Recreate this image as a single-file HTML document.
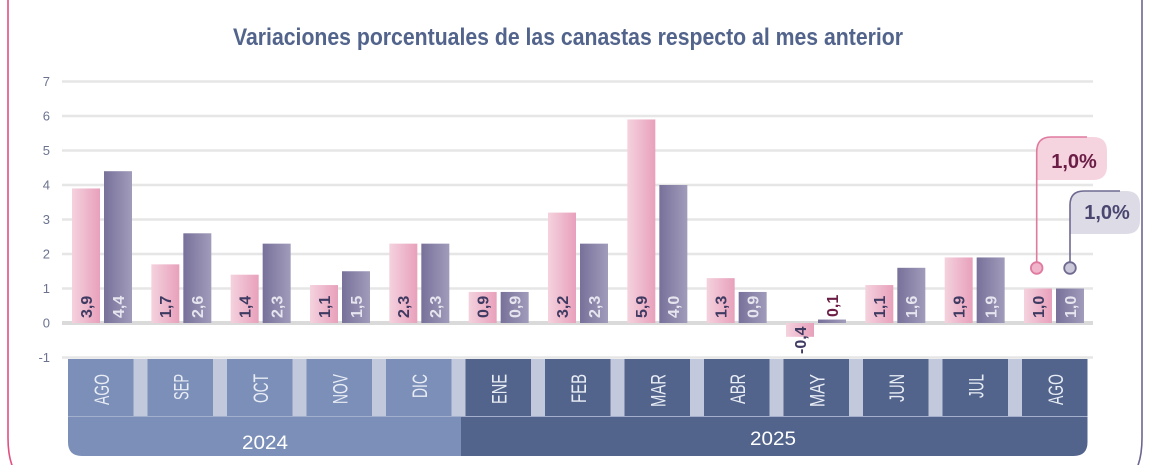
<!DOCTYPE html>
<html>
<head>
<meta charset="utf-8">
<style>
  html,body{margin:0;padding:0;background:#ffffff;}
  body{width:1155px;height:465px;overflow:hidden;}
  svg{display:block;}
  text{font-family:"Liberation Sans",sans-serif;}
</style>
</head>
<body>
<svg width="1155" height="465" viewBox="0 0 1155 465" xmlns="http://www.w3.org/2000/svg">
  <defs>
    <linearGradient id="gp" x1="0" y1="0" x2="1" y2="0">
      <stop offset="0" stop-color="#f4d2de"/>
      <stop offset="1" stop-color="#e8a0bb"/>
    </linearGradient>
    <linearGradient id="gv" x1="0" y1="0" x2="1" y2="0">
      <stop offset="0" stop-color="#77719a"/>
      <stop offset="1" stop-color="#a19cbb"/>
    </linearGradient>
  </defs>

  <!-- frame -->
  <path d="M8 0 L8 438 Q8 458 14 470" fill="none" stroke="#e3507f" stroke-width="1.6"/>
  <path d="M1142 0 L1142 438 Q1142 458 1136 470" fill="none" stroke="#6c6790" stroke-width="1.6"/>

  <!-- title -->
  <text x="568" y="45" text-anchor="middle" font-size="24" font-weight="bold" fill="#52648c" textLength="670" lengthAdjust="spacingAndGlyphs">Variaciones porcentuales de las canastas respecto al mes anterior</text>

  <!-- gridlines -->
  <g stroke="#e6e6e6" stroke-width="2.5">
    <line x1="62" y1="81.5" x2="1093" y2="81.5"/>
    <line x1="62" y1="116" x2="1093" y2="116"/>
    <line x1="62" y1="150.5" x2="1093" y2="150.5"/>
    <line x1="62" y1="185" x2="1093" y2="185"/>
    <line x1="62" y1="219.5" x2="1093" y2="219.5"/>
    <line x1="62" y1="254" x2="1093" y2="254"/>
    <line x1="62" y1="288.5" x2="1093" y2="288.5"/>
    <line x1="62" y1="357.5" x2="1093" y2="357.5"/>
  </g>
  <rect x="62" y="321" width="1031" height="4" fill="#dadada"/>

  <!-- y labels -->
  <g font-size="13" fill="#6b7390" text-anchor="end">
    <text x="50" y="86">7</text>
    <text x="50" y="120.5">6</text>
    <text x="50" y="155">5</text>
    <text x="50" y="189.5">4</text>
    <text x="50" y="224">3</text>
    <text x="50" y="258.5">2</text>
    <text x="50" y="293">1</text>
    <text x="50" y="327.5">0</text>
    <text x="50" y="362">-1</text>
  </g>

  <!-- pink bars -->
  <g fill="url(#gp)">
    <rect x="72" y="188.45" width="28" height="134.55"/>
    <rect x="151.33" y="264.35" width="28" height="58.65"/>
    <rect x="230.67" y="274.7" width="28" height="48.3"/>
    <rect x="310" y="285.05" width="28" height="37.95"/>
    <rect x="389.33" y="243.65" width="28" height="79.35"/>
    <rect x="468.67" y="291.95" width="28" height="31.05"/>
    <rect x="548" y="212.6" width="28" height="110.4"/>
    <rect x="627.33" y="119.45" width="28" height="203.55"/>
    <rect x="706.67" y="278.15" width="28" height="44.85"/>
    <rect x="786" y="323" width="28" height="13.8"/>
    <rect x="865.33" y="285.05" width="28" height="37.95"/>
    <rect x="944.67" y="257.45" width="28" height="65.55"/>
    <rect x="1024" y="288.5" width="28" height="34.5"/>
  </g>
  <!-- purple bars -->
  <g fill="url(#gv)">
    <rect x="104" y="171.2" width="28" height="151.8"/>
    <rect x="183.33" y="233.3" width="28" height="89.7"/>
    <rect x="262.67" y="243.65" width="28" height="79.35"/>
    <rect x="342" y="271.25" width="28" height="51.75"/>
    <rect x="421.33" y="243.65" width="28" height="79.35"/>
    <rect x="500.67" y="291.95" width="28" height="31.05"/>
    <rect x="580" y="243.65" width="28" height="79.35"/>
    <rect x="659.33" y="185" width="28" height="138"/>
    <rect x="738.67" y="291.95" width="28" height="31.05"/>
    <rect x="818" y="319.55" width="28" height="3.45"/>
    <rect x="897.33" y="267.8" width="28" height="55.2"/>
    <rect x="976.67" y="257.45" width="28" height="65.55"/>
    <rect x="1056" y="288.5" width="28" height="34.5"/>
  </g>

  <!-- pink bar labels -->
  <g font-size="16" font-weight="bold" fill="#3e3a62">
    <text transform="translate(91.8,318) rotate(-90)">3,9</text>
    <text transform="translate(171.13,318) rotate(-90)">1,7</text>
    <text transform="translate(250.47,318) rotate(-90)">1,4</text>
    <text transform="translate(329.8,318) rotate(-90)">1,1</text>
    <text transform="translate(409.13,318) rotate(-90)">2,3</text>
    <text transform="translate(488.47,318) rotate(-90)">0,9</text>
    <text transform="translate(567.8,318) rotate(-90)">3,2</text>
    <text transform="translate(647.13,318) rotate(-90)">5,9</text>
    <text transform="translate(726.47,318) rotate(-90)">1,3</text>
    <text transform="translate(805.8,354) rotate(-90)">-0,4</text>
    <text transform="translate(885.13,318) rotate(-90)">1,1</text>
    <text transform="translate(964.47,318) rotate(-90)">1,9</text>
    <text transform="translate(1043.8,318) rotate(-90)">1,0</text>
  </g>
  <!-- purple bar labels -->
  <g font-size="16" font-weight="bold" fill="#e6e4ee">
    <text transform="translate(123.8,318) rotate(-90)">4,4</text>
    <text transform="translate(203.13,318) rotate(-90)">2,6</text>
    <text transform="translate(282.47,318) rotate(-90)">2,3</text>
    <text transform="translate(361.8,318) rotate(-90)">1,5</text>
    <text transform="translate(441.13,318) rotate(-90)">2,3</text>
    <text transform="translate(520.47,318) rotate(-90)">0,9</text>
    <text transform="translate(599.8,318) rotate(-90)">2,3</text>
    <text transform="translate(679.13,318) rotate(-90)">4,0</text>
    <text transform="translate(758.47,318) rotate(-90)">0,9</text>
    <text transform="translate(917.13,318) rotate(-90)">1,6</text>
    <text transform="translate(996.47,318) rotate(-90)">1,9</text>
    <text transform="translate(1075.8,318) rotate(-90)">1,0</text>
  </g>
  <text transform="translate(837.8,317) rotate(-90)" font-size="16" font-weight="bold" fill="#6b1d45">0,1</text>

  <!-- category axis -->
  <rect x="68" y="359" width="1019.5" height="57" fill="#c2c9dd"/>
  <g fill="#7b8fb8">
    <rect x="68" y="359" width="65.5" height="57"/>
    <rect x="147.5" y="359" width="65.5" height="57"/>
    <rect x="227" y="359" width="65.5" height="57"/>
    <rect x="306.5" y="359" width="65.5" height="57"/>
    <rect x="386" y="359" width="65.5" height="57"/>
  </g>
  <g fill="#52648c">
    <rect x="465.5" y="359" width="65.5" height="57"/>
    <rect x="545" y="359" width="65.5" height="57"/>
    <rect x="624.5" y="359" width="65.5" height="57"/>
    <rect x="704" y="359" width="65.5" height="57"/>
    <rect x="783.5" y="359" width="65.5" height="57"/>
    <rect x="863" y="359" width="65.5" height="57"/>
    <rect x="942.5" y="359" width="65.5" height="57"/>
    <rect x="1022" y="359" width="65.5" height="57"/>
  </g>
  <g font-size="21" fill="#e8ecf5" text-anchor="end">
    <text transform="translate(109,374) rotate(-90)" textLength="31" lengthAdjust="spacingAndGlyphs">AGO</text>
    <text transform="translate(188.5,374) rotate(-90)" textLength="26" lengthAdjust="spacingAndGlyphs">SEP</text>
    <text transform="translate(268,374) rotate(-90)" textLength="29" lengthAdjust="spacingAndGlyphs">OCT</text>
    <text transform="translate(347.5,374) rotate(-90)" textLength="30" lengthAdjust="spacingAndGlyphs">NOV</text>
    <text transform="translate(427,374) rotate(-90)" textLength="24" lengthAdjust="spacingAndGlyphs">DIC</text>
    <text transform="translate(506.5,374) rotate(-90)" textLength="30" lengthAdjust="spacingAndGlyphs">ENE</text>
    <text transform="translate(586,374) rotate(-90)" textLength="29" lengthAdjust="spacingAndGlyphs">FEB</text>
    <text transform="translate(665.5,374) rotate(-90)" textLength="33" lengthAdjust="spacingAndGlyphs">MAR</text>
    <text transform="translate(745,374) rotate(-90)" textLength="30" lengthAdjust="spacingAndGlyphs">ABR</text>
    <text transform="translate(824.5,374) rotate(-90)" textLength="33" lengthAdjust="spacingAndGlyphs">MAY</text>
    <text transform="translate(904,374) rotate(-90)" textLength="28" lengthAdjust="spacingAndGlyphs">JUN</text>
    <text transform="translate(983.5,374) rotate(-90)" textLength="24" lengthAdjust="spacingAndGlyphs">JUL</text>
    <text transform="translate(1063,374) rotate(-90)" textLength="31" lengthAdjust="spacingAndGlyphs">AGO</text>
  </g>

  <!-- year rows -->
  <path d="M68 416 L461 416 L461 456 L82 456 Q68 456 68 442 Z" fill="#7b8fb8"/>
  <path d="M461 416 L1087.5 416 L1087.5 442 Q1087.5 456 1073.5 456 L461 456 Z" fill="#52648c"/>
  <line x1="68" y1="416.5" x2="1087.5" y2="416.5" stroke="#a3afcc" stroke-width="1"/>
  <text x="265" y="449" text-anchor="middle" font-size="19" fill="#ffffff" textLength="46" lengthAdjust="spacingAndGlyphs">2024</text>
  <text x="773" y="445" text-anchor="middle" font-size="19" fill="#ffffff" textLength="46" lengthAdjust="spacingAndGlyphs">2025</text>

  <!-- callouts -->
  <path d="M1037 180 L1037 151 Q1037 137 1051 137 L1093 137 Q1107 137 1107 151 L1107 166 Q1107 180 1093 180 Z" fill="#f5d3df"/>
  <path d="M1036.7 262 L1036.7 152 Q1036.7 137 1051 137 L1087 137" fill="none" stroke="#e07a9f" stroke-width="1.6"/>
  <circle cx="1036.7" cy="268" r="5.8" fill="#f0b5ca" stroke="#e07a9f" stroke-width="1.8"/>
  <text x="1074" y="168" text-anchor="middle" font-size="20" font-weight="bold" fill="#6b1d45">1,0%</text>

  <path d="M1070 234 L1070 205 Q1070 191 1084 191 L1126 191 Q1140 191 1140 205 L1140 220 Q1140 234 1126 234 Z" fill="#dddbe6"/>
  <path d="M1070 262 L1070 205 Q1070 191 1084 191 L1120 191" fill="none" stroke="#6e6a90" stroke-width="1.6"/>
  <circle cx="1070" cy="268" r="5.8" fill="#cbc8da" stroke="#6e6a90" stroke-width="1.8"/>
  <text x="1107" y="219" text-anchor="middle" font-size="20" font-weight="bold" fill="#4a4670">1,0%</text>
</svg>
</body>
</html>
